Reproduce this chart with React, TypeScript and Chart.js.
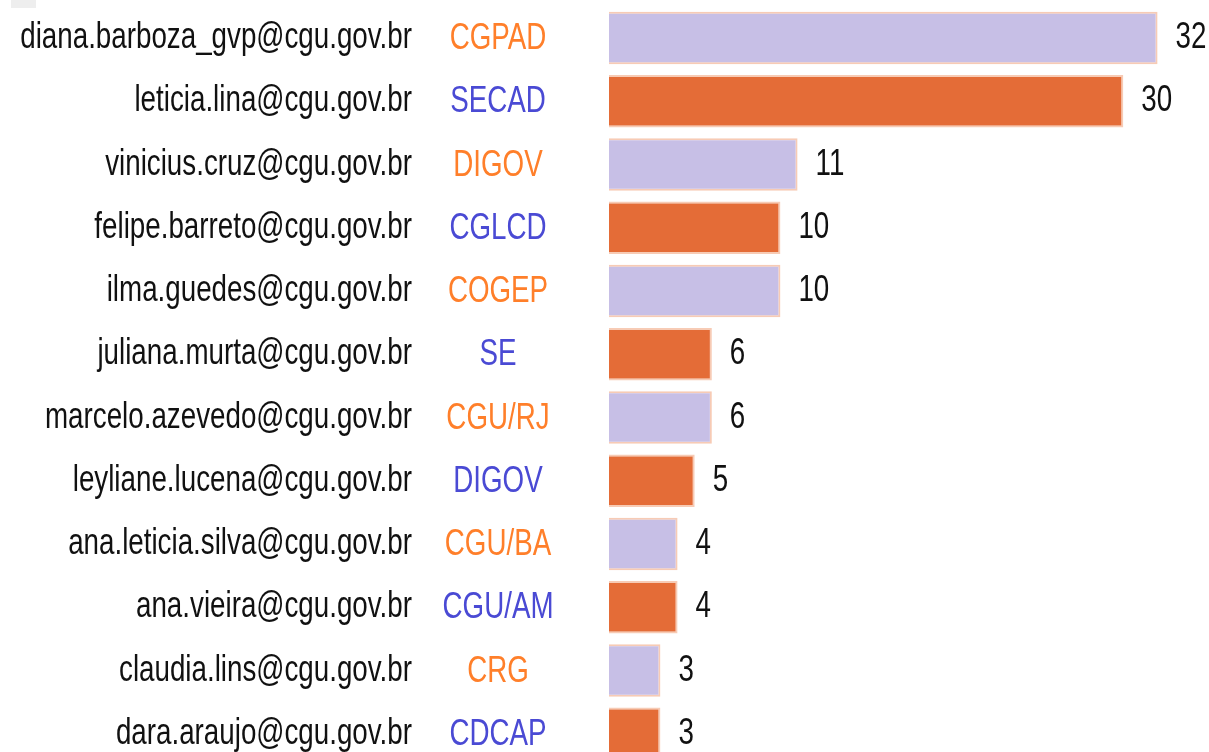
import React, { useEffect, useRef } from "react";
import { Chart, registerables } from "chart.js";

Chart.register(...registerables);

const emails = [
  "diana.barboza_gvp@cgu.gov.br",
  "leticia.lina@cgu.gov.br",
  "vinicius.cruz@cgu.gov.br",
  "felipe.barreto@cgu.gov.br",
  "ilma.guedes@cgu.gov.br",
  "juliana.murta@cgu.gov.br",
  "marcelo.azevedo@cgu.gov.br",
  "leyliane.lucena@cgu.gov.br",
  "ana.leticia.silva@cgu.gov.br",
  "ana.vieira@cgu.gov.br",
  "claudia.lins@cgu.gov.br",
  "dara.araujo@cgu.gov.br",
];

const departments = [
  "CGPAD",
  "SECAD",
  "DIGOV",
  "CGLCD",
  "COGEP",
  "SE",
  "CGU/RJ",
  "DIGOV",
  "CGU/BA",
  "CGU/AM",
  "CRG",
  "CDCAP",
];

const counts = [32, 30, 11, 10, 10, 6, 6, 5, 4, 4, 3, 3];

const LAVENDER = "#C7BFE6";
const ORANGE = "#E46C37";
const DEPT_ORANGE = "#FF7F2A";
const DEPT_BLUE = "#4A4AD4";
const FONT = "'Liberation Sans', Arial, sans-serif";
const SX = 0.75;

function drawScaled(
  ctx: CanvasRenderingContext2D,
  text: string,
  x: number,
  y: number,
  align: CanvasTextAlign,
  color: string
) {
  ctx.save();
  ctx.translate(x, y);
  ctx.scale(SX, 1);
  ctx.textAlign = align;
  ctx.textBaseline = "middle";
  ctx.fillStyle = color;
  ctx.fillText(text, 0, 0);
  ctx.restore();
}

const textPlugin = {
  id: "customTexts",
  afterDatasetsDraw(chart: any) {
    const ctx: CanvasRenderingContext2D = chart.ctx;
    const ys = chart.scales.y;
    const xs = chart.scales.x;
    ctx.save();
    ctx.fillStyle = "#EEEEEE";
    ctx.fillRect(11, 0, 25, 8);
    ctx.font = `37px ${FONT}`;
    emails.forEach((e, i) => {
      const py = ys.getPixelForValue(i);
      drawScaled(ctx, e, 412, py, "right", "#111111");
      drawScaled(
        ctx,
        departments[i],
        498,
        py + 1,
        "center",
        i % 2 === 0 ? DEPT_ORANGE : DEPT_BLUE
      );
      const px = xs.getPixelForValue(counts[i]);
      drawScaled(ctx, String(counts[i]), px + 18, py, "left", "#111111");
    });
    ctx.restore();
  },
};

export default function App() {
  const ref = useRef<HTMLCanvasElement | null>(null);

  useEffect(() => {
    if (!ref.current) return;
    const chart = new Chart(ref.current, {
      type: "bar",
      data: {
        labels: emails,
        datasets: [
          {
            data: counts,
            backgroundColor: counts.map((_, i) => (i % 2 === 0 ? LAVENDER : ORANGE)),
            borderColor: "rgba(240,160,120,0.55)",
            borderWidth: 2,
            categoryPercentage: 1,
            barPercentage: 0.83,
          },
        ],
      },
      options: {
        indexAxis: "y",
        responsive: false,
        animation: false,
        layout: { padding: { left: 609, right: 0, top: 6.4, bottom: 14.6 } },
        plugins: {
          legend: { display: false },
          tooltip: { enabled: false },
        },
        scales: {
          x: { display: false, min: 0, max: 35 },
          y: { display: false },
        },
      },
      plugins: [textPlugin],
    });
    return () => chart.destroy();
  }, []);

  return (
    <div
      style={{
        position: "fixed",
        left: 0,
        top: 0,
        width: 1209,
        height: 752,
        overflow: "hidden",
        background: "#ffffff",
      }}
    >
      <canvas ref={ref} width={1209} height={780} style={{ display: "block" }} />
    </div>
  );
}
